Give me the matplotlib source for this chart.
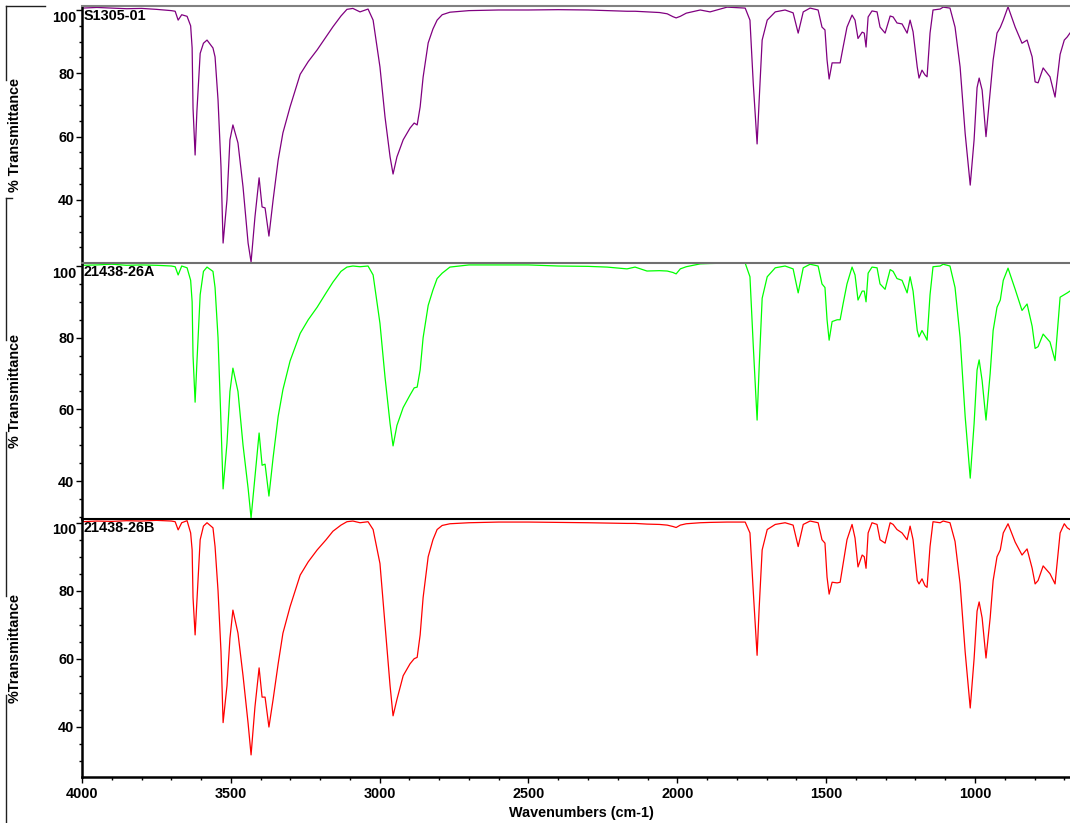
import matplotlib
matplotlib.use("Agg")
import matplotlib.pyplot as plt
from matplotlib.lines import Line2D
from matplotlib.ticker import FixedLocator, MultipleLocator

plt.rcParams['font.family'] = ['Liberation Sans', 'DejaVu Sans']
plt.rcParams['font.weight'] = 'bold'
plt.rcParams['font.size'] = 10.4

# ---------------- data ----------------
wavenumbers = [
    4000, 3950, 3900, 3850, 3800, 3750, 3700, 3687, 3677, 3665,
    3647, 3635, 3630, 3627, 3620, 3614, 3603, 3592, 3580, 3560,
    3553, 3543, 3533, 3526, 3513, 3503, 3493, 3476, 3459, 3442,
    3432, 3419, 3405, 3395, 3385, 3372, 3358, 3341, 3325, 3301,
    3267, 3240, 3210, 3180, 3157, 3130, 3110, 3090, 3066, 3039, 3022, 2999, 2982, 2965,
    2955, 2942, 2921, 2898, 2884, 2874, 2864, 2854, 2837, 2821,
    2807, 2790, 2764, 2700, 2600, 2500, 2400, 2300, 2236, 2169,
    2142, 2102, 2060, 2034, 2015, 2004, 1990, 1970, 1923, 1890,
    1833, 1772, 1756, 1745, 1732, 1725, 1715, 1698, 1671, 1638,
    1611, 1594, 1577, 1554, 1527, 1514, 1504, 1497, 1490, 1480,
    1463, 1453, 1443, 1430, 1413, 1403, 1393, 1379, 1372, 1366,
    1359, 1346, 1329, 1319, 1302, 1285, 1275, 1262, 1245, 1228,
    1218, 1208, 1194, 1188, 1178, 1168, 1161, 1151, 1141, 1117,
    1107, 1084, 1067, 1050, 1033, 1016, 1003, 993, 986, 976,
    963, 949, 939, 926, 915, 905, 889, 865, 842, 825,
    808, 798, 788, 771, 748, 731, 714, 700, 690, 681,
]

t_s1305_01 = [
    100.6, 100.8, 100.6, 100.4, 100.5, 100.2, 99.8, 99.6, 96.8, 98.5,
    98.0, 95.0, 88.0, 69.0, 54.2, 68.0, 86.3, 89.5, 90.5, 88.0,
    85.2, 71.6, 50.4, 26.4, 40.0, 59.0, 63.7, 58.0, 44.1, 26.4,
    20.4, 34.6, 47.0, 37.8, 37.5, 28.6, 40.0, 52.6, 61.2, 69.4,
    79.7, 83.7, 87.4, 91.5, 94.7, 98.1, 100.2, 100.5, 99.4, 100.3, 96.8, 82.0, 66.2, 53.6,
    48.2, 53.6, 59.0, 62.7, 64.3, 63.7, 69.4, 78.8, 89.6, 94.0,
    96.8, 98.5, 99.3, 99.8, 100.0, 100.0, 100.1, 100.0, 99.8, 99.6,
    99.6, 99.4, 99.2, 98.8, 97.9, 97.5, 98.0, 99.0, 100.0, 99.4,
    100.9, 100.6, 96.8, 77.0, 57.7, 71.6, 90.5, 96.8, 99.4, 100.0,
    99.1, 92.7, 99.4, 100.6, 100.0, 94.6, 93.7, 84.2, 78.2, 83.3,
    83.3, 83.3, 88.3, 94.6, 98.4, 96.8, 91.0, 93.0, 92.7, 88.3,
    97.8, 99.7, 99.4, 94.6, 92.7, 98.1, 97.8, 95.9, 95.6, 92.7,
    96.8, 93.1, 82.0, 78.5, 81.0, 79.5, 78.9, 92.7, 100.0, 100.3,
    100.9, 100.6, 94.6, 82.0, 61.0, 44.7, 59.0, 75.5, 78.5, 74.7,
    60.0, 73.9, 84.2, 92.7, 94.5, 96.8, 101.0, 94.6, 89.5, 90.5,
    85.2, 77.3, 77.0, 81.7, 78.9, 72.5, 86.0, 90.5, 91.5, 92.7,
]

t_21438_26a = [
    100.2, 100.3, 100.5, 100.2, 100.3, 100.2, 100.0, 99.8, 97.5, 100.0,
    99.5, 96.0, 90.0, 75.0, 62.0, 73.0, 92.0, 98.5, 99.7, 98.5,
    94.0, 80.0, 56.0, 37.8, 50.5, 65.0, 71.5, 65.0, 50.0, 38.0,
    29.7, 41.0, 53.4, 44.4, 44.7, 35.8, 46.5, 58.0, 65.5, 73.5,
    81.2, 85.0, 88.5, 92.5, 95.5, 98.5, 99.7, 100.0, 99.8, 100.0, 97.5, 84.0, 69.0, 56.0,
    49.8, 55.5, 60.5, 64.0, 66.0, 66.2, 71.0, 80.0, 89.0, 93.3,
    96.5, 98.0, 99.7, 100.3, 100.3, 100.3, 100.0, 99.9, 99.7, 99.2,
    99.7, 98.6, 98.7, 98.6, 98.2, 97.8, 99.2, 99.8, 100.6, 100.7,
    100.8, 100.8, 97.0, 78.0, 57.0, 72.0, 91.0, 97.0, 99.5, 100.0,
    99.2, 92.5, 99.5, 100.5, 100.0, 95.0, 94.0, 85.0, 79.3, 84.5,
    85.0, 85.0, 89.5, 95.0, 99.7, 97.5, 90.5, 93.0, 93.0, 90.0,
    98.0, 99.7, 99.5, 95.0, 93.5, 99.0, 98.5, 96.5, 96.0, 92.5,
    97.0, 93.0, 82.0, 80.2, 82.0, 80.5, 79.3, 92.0, 99.8, 100.0,
    100.5, 100.0, 94.0, 80.0, 58.0, 40.8, 56.0, 71.0, 73.8, 68.0,
    57.0, 70.0, 82.0, 88.5, 90.5, 96.0, 99.4, 93.5, 87.6, 89.4,
    83.2, 77.0, 77.5, 81.0, 78.8, 73.6, 91.3, 92.0, 92.5, 93.0,
]

t_21438_26b = [
    100.3, 100.5, 100.4, 100.6, 100.5, 100.7, 100.5, 100.3, 97.9, 100.0,
    100.6, 97.0, 92.0, 78.0, 67.0, 77.0, 95.0, 99.0, 100.0, 98.5,
    93.0, 80.0, 62.0, 41.2, 52.0, 66.0, 74.3, 67.5, 55.0, 41.0,
    31.7, 45.8, 57.3, 48.7, 48.7, 39.9, 48.0, 58.5, 67.5, 75.3,
    84.6, 88.5, 92.0, 95.0, 97.5, 99.3, 100.3, 100.5, 100.0, 100.3, 98.0, 88.0, 70.0, 52.0,
    43.2, 48.0, 55.0, 58.5, 60.0, 60.4, 67.0, 78.0, 90.0, 95.0,
    98.0, 99.2, 99.7, 100.0, 100.2, 100.2, 100.1, 100.0, 99.9, 99.8,
    99.8, 99.6, 99.5, 99.3, 98.9, 98.6, 99.3, 99.7, 100.0, 100.1,
    100.2, 100.2, 97.0, 80.0, 61.0, 75.0, 92.0, 98.0, 99.5, 100.0,
    99.3, 93.0, 99.5, 100.5, 100.0, 95.0, 94.0, 84.0, 79.0, 82.5,
    82.3, 82.5, 88.0, 95.0, 99.5, 95.5, 87.0, 90.5, 90.0, 86.6,
    97.0, 100.0, 99.5, 95.0, 94.0, 100.0, 99.5, 98.0, 97.0, 95.0,
    99.0, 95.0, 83.0, 82.0, 83.5, 81.5, 81.0, 93.0, 100.3, 100.0,
    100.5, 100.0, 94.5, 82.0, 62.0, 45.5, 60.0, 74.0, 76.7, 72.0,
    60.2, 72.0, 83.0, 90.0, 92.0, 97.0, 99.7, 94.3, 90.5, 92.3,
    86.6, 82.0, 83.0, 87.3, 85.0, 82.0, 97.0, 99.7, 98.5, 98.0,
]

sample_names = ["S1305-01", "21438-26A", "21438-26B"]
y_labels = ["% Transmittance", "% Transmittance", "%Transmittance"]
series = [t_s1305_01, t_21438_26a, t_21438_26b]
line_colors = ["#800080", "#00ff00", "#ff0000"]
x_ticks = [4000, 3500, 3000, 2500, 2000, 1500, 1000]
y_ticks = [40, 60, 80, 100]
x_label = "Wavenumbers (cm-1)"

# ---------------- layout (pixel based) ----------------
W, H = 1070, 823
fig = plt.figure(figsize=(W / 100, H / 100), dpi=100)

def rect(x0, y0, x1, y1):
    return [x0 / W, 1 - y1 / H, (x1 - x0) / W, (y1 - y0) / H]

panels_px = [(6, 263), (263, 519), (519, 777)]
ylims = [(20.1, 101.26), (29.4, 100.84), (25.2, 101.1)]
top_colors = ["#808080", "#707070", "#000000"]
label_centers = [134.5, 390.5, 648]

for i, (y0, y1) in enumerate(panels_px):
    ax = fig.add_axes(rect(82, y0, 1070, y1))
    ax.plot(wavenumbers, series[i], color=line_colors[i], lw=0.9)
    ax.set_xlim(4000, 680.8)
    ax.set_ylim(*ylims[i])
    ax.patch.set_alpha(0)
    ax.spines["right"].set_visible(False)
    ax.spines["left"].set_linewidth(1.8)
    ax.spines["left"].set_color("black")
    ax.spines["top"].set_color(top_colors[i])
    ax.spines["top"].set_linewidth(1.5)
    if i < 2:
        ax.spines["bottom"].set_visible(False)
    else:
        ax.spines["bottom"].set_linewidth(1.8)

    ax.yaxis.set_major_locator(FixedLocator(y_ticks))
    ax.set_yticklabels(["40", "60", "80", ""])
    ax.yaxis.set_minor_locator(MultipleLocator(5))
    ax.annotate("100", xy=(0, 100), xycoords=("axes fraction", "data"),
                xytext=(-4.2, -0.5), textcoords="offset points",
                ha="right", va="top", fontsize=10.4, fontweight="bold")
    ax.tick_params(axis="y", which="major", direction="out", length=4, width=1,
                   pad=1.5, labelsize=10.4)
    ax.tick_params(axis="y", which="minor", direction="out", length=2.5, width=1)

    if i == 2:
        ax.xaxis.set_major_locator(FixedLocator(x_ticks))
        ax.xaxis.set_minor_locator(MultipleLocator(100))
        ax.tick_params(axis="x", which="major", direction="out", length=4, width=1,
                       pad=3, labelsize=10.4)
        ax.tick_params(axis="x", which="minor", direction="out", length=2.5, width=1)
    else:
        ax.set_xticks([])
        ax.tick_params(axis="x", which="both", bottom=False, labelbottom=False)

    fig.text(84 / W, 1 - (y0 + 2.5) / H, sample_names[i], ha="left", va="top",
             fontsize=10.4, fontweight="bold")
    fig.text(15 / W, 1 - label_centers[i] / H, y_labels[i], rotation=90,
             ha="center", va="center", fontsize=10.4, fontweight="bold")

fig.text(581 / W, 1 - 813 / H, x_label, ha="center", va="center",
         fontsize=10.4, fontweight="bold")

# left bracket decoration
def fig_line(xs, ys, **kw):
    fig.add_artist(Line2D([x / W for x in xs], [1 - y / H for y in ys],
                          transform=fig.transFigure, **kw))

fig_line([6, 45], [6, 6], color="#202020", lw=1.0)
for a, b in [(6, 80), (198, 340), (432, 596), (695, 823)]:
    fig_line([6, 6], [a, b], color="#202020", lw=1.0)
fig_line([6, 12], [198, 198], color="#202020", lw=1.0)

fig.savefig("out.png", dpi=100)
